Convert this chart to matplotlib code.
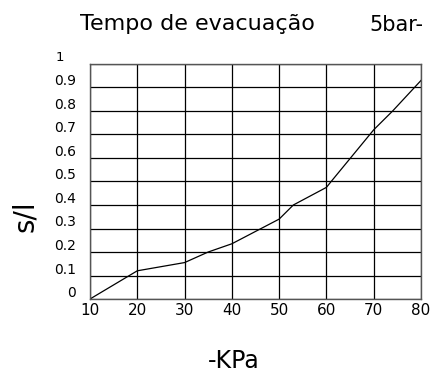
import matplotlib
matplotlib.use("Agg")
import matplotlib.pyplot as plt
import matplotlib.transforms as mtransforms

pressure_kpa = [10, 20, 30, 35, 40, 50, 53, 60, 61, 70, 74, 80]
time_s_per_l = [0.0, 0.12, 0.155, 0.20, 0.235, 0.34, 0.40, 0.475, 0.50, 0.72, 0.80, 0.93]
x_ticks = [10, 20, 30, 40, 50, 60, 70, 80]
y_ticks = [0, 0.1, 0.2, 0.3, 0.4, 0.5, 0.6, 0.7, 0.8, 0.9, 1]
y_tick_labels = ["0", "0.1", "0.2", "0.3", "0.4", "0.5", "0.6", "0.7", "0.8", "0.9", "1"]

plt.rcParams['font.family'] = ['DejaVu Sans']
fig = plt.figure(figsize=(4.37, 3.86), dpi=100)
ax = fig.add_axes([90/437, 1 - 299/386, (421-90)/437, (299-64)/386])

ax.plot(pressure_kpa, time_s_per_l, color='black', lw=0.9)
ax.set_xlim(10, 80)
ax.set_ylim(0, 1)
ax.set_xticks(x_ticks)
ax.set_yticks(y_ticks)
ax.set_yticklabels([])
ax.tick_params(axis='both', length=0)
ax.tick_params(axis='x', labelsize=11, pad=3)
ax.grid(True, color='black', lw=0.9)
for s in ax.spines.values():
    s.set_color('#555555')
    s.set_linewidth(1.0)

trans = mtransforms.blended_transform_factory(ax.transAxes, ax.transData)
offset = mtransforms.ScaledTranslation(0, 6/100, fig.dpi_scale_trans)
for v, lab in zip(y_ticks, y_tick_labels):
    if lab == "1":
        ax.text(-34/331, v, lab, transform=trans + offset, ha='left', va='center', fontsize=9.5)
    else:
        ax.text(-14/331, v, lab, transform=trans + offset, ha='right', va='center', fontsize=10)

fig.text(197/437, 1 - 24/386, "Tempo de evacuação", ha='center', va='center', fontsize=16)
fig.text(396/437, 1 - 25/386, "5bar-", ha='center', va='center', fontsize=15)
fig.text(25/437, 1 - 216/386, "s/l", rotation=90, ha='center', va='center', fontsize=20)
fig.text(234/437, 1 - 361/386, "-KPa", ha='center', va='center', fontsize=17)

fig.savefig("out.png", dpi=100)
